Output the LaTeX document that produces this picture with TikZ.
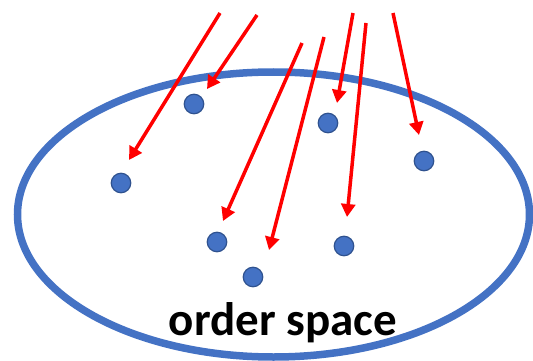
\documentclass[tikz,border=0pt]{standalone}
\usepackage{fontspec}
\setmainfont{Carlito}
\usetikzlibrary{arrows.meta,shapes.geometric}
\definecolor{SpaceBlue}{HTML}{4472C4}
\definecolor{DotEdge}{HTML}{2F528F}
\definecolor{MapRed}{HTML}{FF0000}
\tikzset{
  space ring/.style={ellipse, draw=SpaceBlue, line width=7.5pt, inner sep=0pt},
  order dot/.style={circle, fill=SpaceBlue, draw=DotEdge, line width=1.2pt,
    minimum size=19.5pt, inner sep=0pt},
  map arrow/.style={-{Triangle[length=13pt,width=14pt]}, draw=MapRed, line width=3.5pt},
  space label/.style={font=\bfseries\fontsize{47}{52}\selectfont, text=black, inner sep=0pt},
}

\begin{document}
\begin{tikzpicture}[x=1pt, y=-1pt]
  \useasboundingbox (0,0) rectangle (533,361);
  \clip (0,0) rectangle (533,361);

  \node[space ring, minimum width=512pt, minimum height=285pt] (orderSpace) at (273.5,214.5) {};
  \node[space label, anchor=base] (spaceLabel) at (283,335) {order space};

  \node[order dot] (dotA) at (194,104) {};
  \node[order dot] (dotB) at (121,183) {};
  \node[order dot] (dotC) at (328,123) {};
  \node[order dot] (dotD) at (424,161) {};
  \node[order dot] (dotE) at (217,242) {};
  \node[order dot] (dotF) at (344,246) {};
  \node[order dot] (dotG) at (253,277) {};

  % free ends of the incoming maps, and where their tips land
  \coordinate (srcA) at (220,13);
  \coordinate (tipA) at (129,160);
  \coordinate (srcB) at (257,15);
  \coordinate (tipB) at (207,89);
  \coordinate (srcC) at (302,43);
  \coordinate (tipC) at (223,221);
  \coordinate (srcD) at (324,37);
  \coordinate (tipD) at (269,250);
  \coordinate (srcE) at (353,13);
  \coordinate (tipE) at (337,103);
  \coordinate (srcF) at (366,23);
  \coordinate (tipF) at (347,217);
  \coordinate (srcG) at (393,13);
  \coordinate (tipG) at (419,135);

  \draw[map arrow] (srcA) -- (tipA);
  \draw[map arrow] (srcB) -- (tipB);
  \draw[map arrow] (srcC) -- (tipC);
  \draw[map arrow] (srcD) -- (tipD);
  \draw[map arrow] (srcE) -- (tipE);
  \draw[map arrow] (srcF) -- (tipF);
  \draw[map arrow] (srcG) -- (tipG);
\end{tikzpicture}
\end{document}
